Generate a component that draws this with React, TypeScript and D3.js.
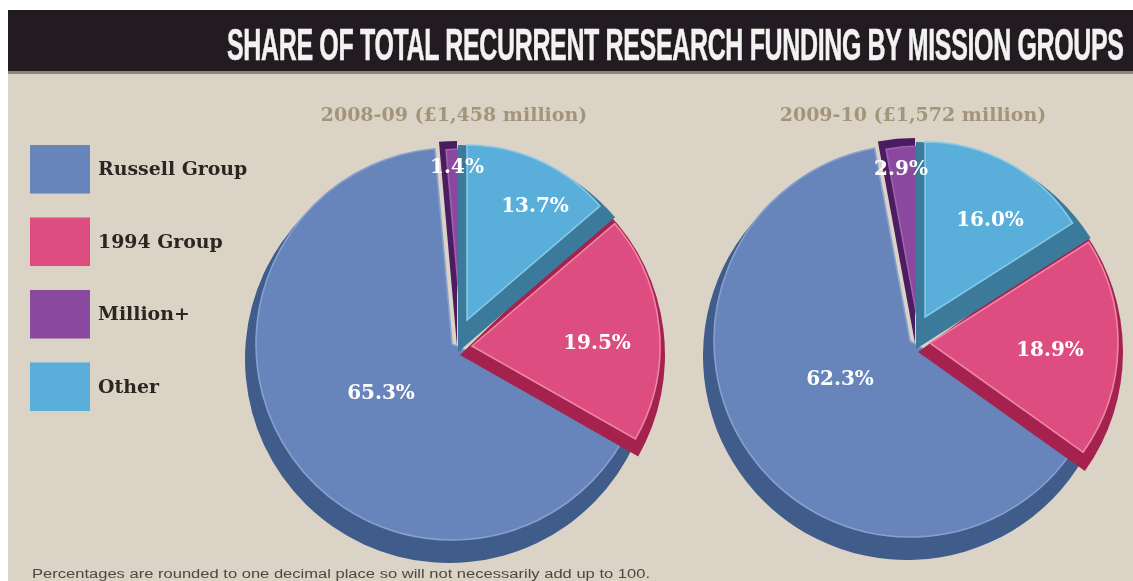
import React from 'react';
import * as d3 from 'd3';

const titleText = 'SHARE OF TOTAL RECURRENT RESEARCH FUNDING BY MISSION GROUPS';
const footnote = 'Percentages are rounded to one decimal place so will not necessarily add up to 100.';

// clockwise from 12 o'clock, the way the slices sit on the page
const sliceKeys = ['other', 'g1994', 'russell', 'million'];
const legendLabels = ['Russell Group', '1994 Group', 'Million+', 'Other'];
const legendKeys = ['russell', 'g1994', 'million', 'other'];

const headings = ['2008-09 (£1,458 million)', '2009-10 (£1,572 million)'];
const shares0809 = [13.7, 19.5, 65.3, 1.4];
const shares0910 = [16.0, 18.9, 62.3, 2.9];

const colors: Record<string, { face: string; wall: string; edge: string }> = {
  russell: { face: '#6785bb', wall: '#3f5c8b', edge: '#87a0d0' },
  g1994: { face: '#dd4e80', wall: '#a5234f', edge: '#ee86a8' },
  million: { face: '#8a4a9e', wall: '#4b1c5e', edge: '#9d62b0' },
  other: { face: '#5aaeda', wall: '#3b7a9a', edge: '#86c8e8' },
};

// wall = the dark extruded shape, face = the flat top. Offsets from pie centre.
// bleed pushes a slice a little under its neighbour so no gap shows between them
const sliceShape: Record<string, any> = {
  russell: { wall: { x: -8, y: 12, r: 204, bleed: 0.09 }, face: { x: -5, y: -3, r: 196, bleed: 0.09 } },
  g1994: { wall: { x: 3, y: 8, r: 205, bleed: 0.06 }, face: { x: 15, y: -1, r: 188, bleed: 0 } },
  million: { wall: { x: 0, y: -1, r: 205, bleed: 0 }, face: { x: 6, y: -5, r: 193, bleed: 0 } },
  other: { wall: { x: 1, y: 5, r: 207, bleed: 0 }, face: { x: 10, y: -27, r: 175, bleed: 0 } },
};

const pies = [
  {
    cx: 457, cy: 347, heading: headings[0], headX: 454, values: shares0809,
    labels: [[78, -142], [140, -5], [-76, 45], [0, -181]],
  },
  {
    cx: 915, cy: 344, heading: headings[1], headX: 913, values: shares0910,
    labels: [[75, -125], [135, 5], [-75, 34], [-14, -176]],
  },
];

const slabFont = '"DejaVu Serif", serif';

const pieGen = d3.pie<number>().sort(null).startAngle(0).endAngle(2 * Math.PI);

const wedge = (r: number, d: d3.PieArcDatum<number>, bleed: number) =>
  d3.arc()({
    innerRadius: 0,
    outerRadius: r,
    startAngle: d.startAngle - bleed,
    endAngle: d.endAngle,
  }) as string;

const App = () => {
  const legendY = d3.scaleBand<number>().domain([0, 1, 2, 3]).range([145, 411]).paddingInner(0.33);

  return (
    <svg width={1133} height={581} style={{ position: 'absolute', left: 0, top: 0, background: '#fff' }}>
      <defs>
        <filter id="soft" x="-2%" y="-2%" width="104%" height="104%">
          <feGaussianBlur stdDeviation="0.65" />
        </filter>
      </defs>
      <g filter="url(#soft)">
        <rect x={8} y={70} width={1125} height={511} fill="#dbd3c5" />
        <rect x={8} y={10} width={1125} height={62} fill="#221f20" />
        <rect x={8} y={71} width={1125} height={3} fill="#8a857b" />
        <text
          transform="translate(1124,60) scale(1,1.75)" textAnchor="end" fill="#f2f2f0"
          stroke="#f2f2f0" strokeWidth={0.3}
          fontSize={25} fontWeight={700}
          fontFamily='"Liberation Sans Narrow", "Liberation Sans", sans-serif'
          textLength={897}
        >
          {titleText}
        </text>

        {legendLabels.map((label, i) => (
          <g key={label}>
            <rect
              x={30} y={legendY(i)} width={60} height={legendY.bandwidth()}
              fill={colors[legendKeys[i]].face}
            />
            <text
              x={98} y={(legendY(i) as number) + legendY.bandwidth() / 2 + 6}
              fontFamily={slabFont} fontWeight={700} fontSize={18.9} fill="#2b2623"
            >
              {label}
            </text>
          </g>
        ))}

        {pies.map((p) => {
          const arcs = pieGen(p.values);
          // russell goes first so that the others sit on top of its wall
          const order = [2, 1, 3, 0];
          return (
            <g key={p.heading}>
              <text
                x={p.headX} y={121} textAnchor="middle" fontFamily={slabFont} fontWeight={700}
                fontSize={19} fill="#a3957a"
              >
                {p.heading}
              </text>
              {order.map((i) => {
                const key = sliceKeys[i];
                const s = sliceShape[key];
                return (
                  <g key={key}>
                    <path
                      d={wedge(s.wall.r, arcs[i], s.wall.bleed)}
                      transform={`translate(${p.cx + s.wall.x},${p.cy + s.wall.y})`}
                      fill={colors[key].wall}
                    />
                    <path
                      d={wedge(s.face.r, arcs[i], s.face.bleed)}
                      transform={`translate(${p.cx + s.face.x},${p.cy + s.face.y})`}
                      fill={colors[key].face}
                      stroke={colors[key].edge}
                      strokeWidth={1.6}
                    />
                  </g>
                );
              })}
              {p.labels.map((l, i) => (
                <text
                  key={i} x={p.cx + l[0]} y={p.cy + l[1] + 7} textAnchor="middle"
                  fontFamily={slabFont} fontWeight={700} fontSize={20} fill="#fff"
                >
                  {p.values[i].toFixed(1)}%
                </text>
              ))}
            </g>
          );
        })}

        <text
          x={32} y={578} fontFamily='"Liberation Sans", sans-serif' fontSize={12.5} fill="#4d4840"
          textLength={618} lengthAdjust="spacingAndGlyphs"
        >
          {footnote}
        </text>
      </g>
    </svg>
  );
};

export default App;
